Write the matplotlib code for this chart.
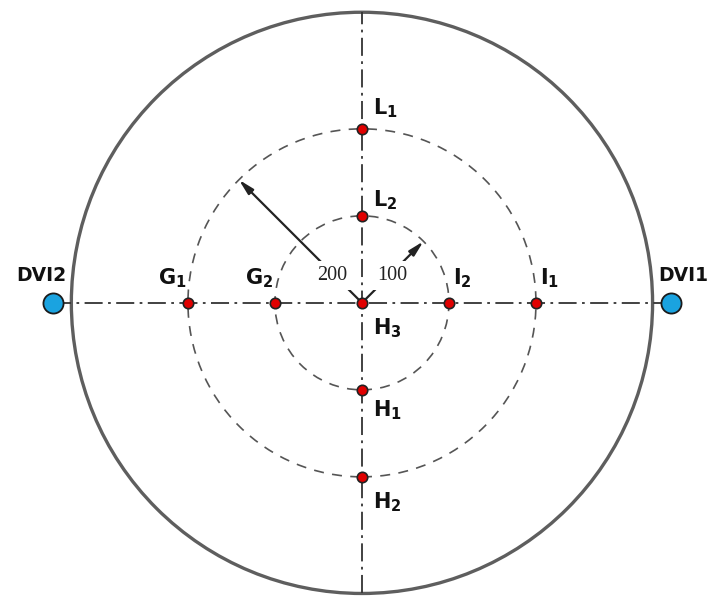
import numpy as np
import matplotlib.pyplot as plt
from matplotlib.patches import Circle

# --- data (units: mm-like, center at H3) ---
point_names = ['L_1', 'L_2', 'G_1', 'G_2', 'I_2', 'I_1', 'H_3', 'H_1', 'H_2']
point_x = [0, 0, -200, -100, 100, 200, 0, 0, 0]
point_y = [200, 100, 0, 0, 0, 0, 0, -100, -200]
sensor_names = ['DVI2', 'DVI1']
sensor_x = [-355, 355]
sensor_y = [0, 0]
ring_radii = [100, 200]
outer_radius = 334

# label offsets (points) and alignment for each mark
label_offsets = {
    'L_1': (8, 6, 'left'), 'L_2': (8, 3, 'left'),
    'G_1': (-1, 9, 'right'), 'G_2': (-1, 9, 'right'),
    'I_2': (3, 9, 'left'), 'I_1': (3, 9, 'left'),
    'H_3': (8, -10, 'left'), 'H_1': (8, -6, 'left'), 'H_2': (8, -10, 'left'),
}

fig = plt.figure(figsize=(7.1, 5.97), dpi=100)
ax = fig.add_axes([0, 0, 1, 1])
ax.set_xlim(-416, 400)
ax.set_ylim(-338, 348)
ax.set_aspect('equal')
ax.axis('off')

# outer boundary
ax.add_patch(Circle((0, 0), outer_radius, fill=False, edgecolor='#5e5e5e', lw=2.4, zorder=2))

# dashed rings
for r in ring_radii:
    ax.add_patch(Circle((0, 0), r, fill=False, edgecolor='#555555', lw=1.2,
                        linestyle=(0, (6, 5)), zorder=2))

# dash-dot axes
ax.plot([sensor_x[0], sensor_x[1]], [0, 0], color='#333333', lw=1.3,
        linestyle=(0, (10, 3, 1.5, 3)), zorder=3)
ax.plot([0, 0], [-outer_radius, outer_radius], color='#333333', lw=1.3,
        linestyle=(0, (10, 3, 1.5, 3)), zorder=3)

# radius arrows
for r, ang, lbl in [(200, 135, '200'), (100, 45, '100')]:
    a = np.deg2rad(ang)
    ax.annotate('', xy=(r * np.cos(a), r * np.sin(a)), xytext=(0, 0),
                arrowprops=dict(arrowstyle='-|>,head_length=0.9,head_width=0.22',
                                color='#222222', lw=1.6, shrinkA=0, shrinkB=0),
                zorder=4)
    ax.text(49 * np.cos(a), 49 * np.sin(a) - 3, lbl, family='Liberation Serif',
            fontsize=14.5, color='#222222', ha='center', va='center', zorder=5,
            bbox=dict(boxstyle='square,pad=0.25', fc='white', ec='none'))

# measurement points
ax.plot(point_x, point_y, 'o', ms=7.5, mfc='#e00000', mec='#222222', mew=1.2,
        linestyle='none', zorder=6)
for name, x, y in zip(point_names, point_x, point_y):
    dx, dy, ha = label_offsets[name]
    ax.annotate(f'$\\mathbf{{{name}}}$', (x, y), textcoords='offset points',
                xytext=(dx, dy), ha=ha, va='bottom' if dy > 0 else 'top',
                fontsize=15, color='#111111', zorder=7)

# sensors
ax.plot(sensor_x, sensor_y, 'o', ms=14.5, mfc='#1aa3e0', mec='#1a1a1a', mew=1.3,
        linestyle='none', zorder=6, clip_on=False)
ax.text(sensor_x[0] - 14, 20, sensor_names[0], ha='center', va='bottom',
        fontsize=13.5, fontweight='bold', color='#111111')
ax.text(sensor_x[1] + 14, 20, sensor_names[1], ha='center', va='bottom',
        fontsize=13.5, fontweight='bold', color='#111111')

plt.savefig('out.png', dpi=100)
